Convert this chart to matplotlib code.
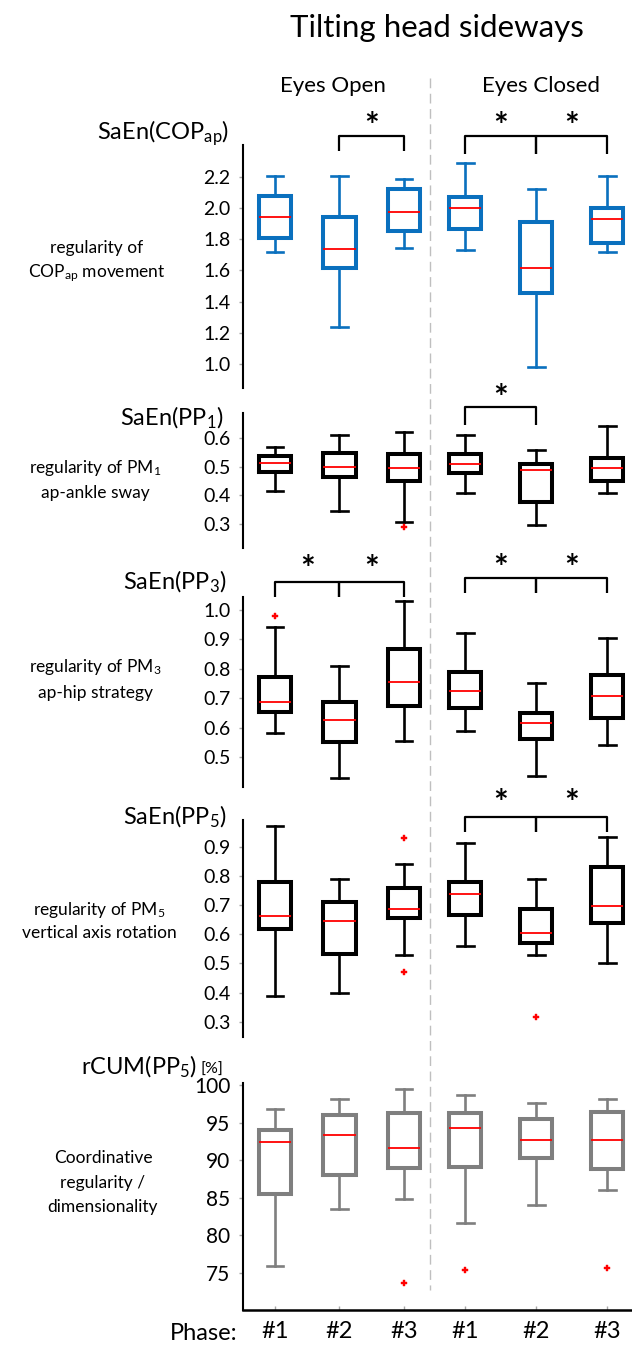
import matplotlib
matplotlib.use("Agg")
import matplotlib.pyplot as plt
from matplotlib import transforms

plt.rcParams['font.family'] = ['Lato', 'DejaVu Sans']
plt.rcParams['mathtext.fontset'] = 'custom'
plt.rcParams['mathtext.rm'] = 'Lato'
plt.rcParams['mathtext.it'] = 'Lato:italic'
plt.rcParams['mathtext.bf'] = 'Lato:bold'

# ---------------- data ----------------
phases = ['#1', '#2', '#3', '#1', '#2', '#3']
conditions = ['Eyes Open', 'Eyes Closed']

cop_med = [1.944, 1.737, 1.972, 1.997, 1.613, 1.927]
cop_q1 = [1.805, 1.613, 1.854, 1.865, 1.453, 1.773]
cop_q3 = [2.078, 1.944, 2.121, 2.072, 1.908, 1.997]
cop_lo = [1.715, 1.238, 1.741, 1.730, 0.982, 1.719]
cop_hi = [2.206, 2.206, 2.185, 2.286, 2.119, 2.206]
cop_out = [[], [], [], [], [], []]
cop_sig = [(1, 2), (3, 4), (4, 5)]

pp1_med = [0.512, 0.500, 0.496, 0.509, 0.488, 0.494]
pp1_q1 = [0.482, 0.462, 0.450, 0.477, 0.376, 0.451]
pp1_q3 = [0.537, 0.547, 0.544, 0.544, 0.508, 0.531]
pp1_lo = [0.416, 0.346, 0.306, 0.407, 0.297, 0.407]
pp1_hi = [0.570, 0.610, 0.620, 0.610, 0.558, 0.642]
pp1_out = [[], [], [0.291], [], [], []]
pp1_sig = [(3, 4)]

pp3_med = [0.688, 0.625, 0.756, 0.724, 0.617, 0.709]
pp3_q1 = [0.653, 0.551, 0.673, 0.667, 0.560, 0.631]
pp3_q3 = [0.773, 0.688, 0.866, 0.790, 0.651, 0.778]
pp3_lo = [0.583, 0.430, 0.553, 0.589, 0.434, 0.542]
pp3_hi = [0.943, 0.810, 1.031, 0.920, 0.750, 0.903]
pp3_out = [[0.980], [], [], [], [], []]
pp3_sig = [(0, 1), (1, 2), (3, 4), (4, 5)]

pp5_med = [0.663, 0.646, 0.685, 0.738, 0.603, 0.698]
pp5_q1 = [0.618, 0.532, 0.654, 0.666, 0.569, 0.639]
pp5_q3 = [0.778, 0.709, 0.757, 0.780, 0.686, 0.829]
pp5_lo = [0.389, 0.397, 0.529, 0.559, 0.529, 0.500]
pp5_hi = [0.972, 0.789, 0.841, 0.911, 0.789, 0.932]
pp5_out = [[], [], [0.929, 0.469], [], [0.317], []]
pp5_sig = [(3, 4), (4, 5)]

rcum_med = [92.42, 93.40, 91.67, 94.29, 92.73, 92.64]
rcum_q1 = [85.44, 87.98, 88.96, 89.09, 90.33, 88.78]
rcum_q3 = [93.98, 95.98, 96.33, 96.29, 95.44, 96.42]
rcum_lo = [75.89, 83.53, 84.87, 81.67, 83.98, 85.98]
rcum_hi = [96.87, 98.20, 99.53, 98.64, 97.62, 98.20]
rcum_out = [[], [], [73.67], [75.31], [], [75.67]]
rcum_sig = []

# ---------------- layout ----------------
W, H = 632, 1345
fig = plt.figure(figsize=(W / 100, H / 100), dpi=100)


def fx(px):
    return px / W


def fy(py):
    return 1 - py / H


positions = [1, 2, 3, 3.95, 5.05, 6.15]
XLIM = (0.504, 6.535)
AX_LEFT, AX_RIGHT = 243, 632

panels = [
    dict(stats=(cop_med, cop_q1, cop_q3, cop_lo, cop_hi, cop_out), sig=cop_sig,
         color='#0A70BE', top=145, bot=388, ylim=(0.846, 2.403),
         ticks=[1.0, 1.2, 1.4, 1.6, 1.8, 2.0, 2.2], fmt='{:.1f}',
         title='SaEn(COP$_{\\mathrm{ap}}$)', title_xy=(229, 139),
         desc=[('regularity of', 248), ('COP$_{\\mathrm{ap}}$ movement', 273)], desc_x=97,
         brk=[(136, 151, 120), (136, 154, 120), (136, 154, 120)]),
    dict(stats=(pp1_med, pp1_q1, pp1_q3, pp1_lo, pp1_hi, pp1_out), sig=pp1_sig,
         color='black', top=413, bot=548, ylim=(0.216, 0.687),
         ticks=[0.3, 0.4, 0.5, 0.6], fmt='{:.1f}',
         title='SaEn(PP$_1$)', title_xy=(224, 425),
         desc=[('regularity of PM$_1$', 468), ('ap-ankle sway', 493)], desc_x=95,
         brk=[(407, 425, 392)]),
    dict(stats=(pp3_med, pp3_q1, pp3_q3, pp3_lo, pp3_hi, pp3_out), sig=pp3_sig,
         color='black', top=597, bot=787, ylim=(0.398, 1.044),
         ticks=[0.5, 0.6, 0.7, 0.8, 0.9, 1.0], fmt='{:.1f}',
         title='SaEn(PP$_3$)', title_xy=(227, 589),
         desc=[('regularity of PM$_3$', 667), ('ap-hip strategy', 693)], desc_x=95,
         brk=[(582, 597, 563), (582, 597, 563), (578, 593, 562), (578, 593, 562)]),
    dict(stats=(pp5_med, pp5_q1, pp5_q3, pp5_lo, pp5_hi, pp5_out), sig=pp5_sig,
         color='black', top=820, bot=1037, ylim=(0.248, 0.991),
         ticks=[0.3, 0.4, 0.5, 0.6, 0.7, 0.8, 0.9], fmt='{:.1f}',
         title='SaEn(PP$_5$)', title_xy=(227, 824),
         desc=[('regularity of PM$_5$', 910), ('vertical axis rotation', 933)], desc_x=99,
         brk=[(817, 832, 797), (817, 832, 797)]),
    dict(stats=(rcum_med, rcum_q1, rcum_q3, rcum_lo, rcum_hi, rcum_out), sig=rcum_sig,
         color='#7F7F7F', top=1083, bot=1310, ylim=(70.0, 100.3),
         ticks=[75, 80, 85, 90, 95, 100], fmt='{:.0f}',
         title='rCUM(PP$_5$)', title_xy=(197, 1074),
         desc=[('Coordinative', 1158), ('regularity /', 1183), ('dimensionality', 1207)], desc_x=103,
         brk=[]),
]

axes = []
for k, p in enumerate(panels):
    ax = fig.add_axes([fx(AX_LEFT), fy(p['bot']), fx(AX_RIGHT - AX_LEFT), (p['bot'] - p['top']) / H])
    axes.append(ax)
    med, q1, q3, lo, hi, out = p['stats']
    stats = [dict(med=med[i], q1=q1[i], q3=q3[i], whislo=lo[i], whishi=hi[i], fliers=out[i])
             for i in range(len(med))]
    c = p['color']
    ax.bxp(stats, positions=positions, widths=0.5, capwidths=0.26, showfliers=True,
           boxprops=dict(color=c, linewidth=2.9, solid_joinstyle='miter'),
           whiskerprops=dict(color=c, linewidth=1.9),
           capprops=dict(color=c, linewidth=1.9),
           medianprops=dict(color='#FF0000', linewidth=1.3),
           flierprops=dict(marker='P', markersize=4.5, markerfacecolor='#FF0000',
                           markeredgecolor='#FF0000', markeredgewidth=0.3, linestyle='none'))
    ax.set_xlim(*XLIM)
    ax.set_ylim(*p['ylim'])
    ax.set_yticks(p['ticks'])
    ax.set_yticklabels([p['fmt'].format(t) for t in p['ticks']])
    ax.tick_params(axis='y', length=3, width=1, color='#A6A6A6', labelsize=14, pad=6)
    for s in ['top', 'right']:
        ax.spines[s].set_visible(False)
    ax.spines['left'].set_linewidth(1.5)
    ax.patch.set_alpha(0)
    if k < len(panels) - 1:
        ax.spines['bottom'].set_visible(False)
        ax.set_xticks([])
    else:
        ax.spines['bottom'].set_linewidth(1.8)
        ax.set_xticks(positions)
        ax.set_xticklabels(phases)
        ax.tick_params(axis='x', direction='in', length=3, width=1, color='#A6A6A6',
                       labelsize=17, pad=8)
        ax.tick_params(axis='y', labelsize=15)

    # panel title
    fig.text(fx(p['title_xy'][0]), fy(p['title_xy'][1]), p['title'], ha='right',
             va='baseline', fontsize=17)
    # description
    for txt, yy in p['desc']:
        fig.text(fx(p['desc_x']), fy(yy), txt, ha='center', va='center', fontsize=12.5)

    # significance brackets
    trans = transforms.blended_transform_factory(ax.transData, fig.transFigure)
    for (i, j), (ytop, yleg, ystar) in zip(p['sig'], p['brk']):
        xs = [positions[i], positions[i], positions[j], positions[j]]
        ys = [fy(yleg), fy(ytop), fy(ytop), fy(yleg)]
        ax.plot(xs, ys, transform=trans, color='black', lw=1.6, clip_on=False,
                solid_joinstyle='round', solid_capstyle='butt')
        ax.text((positions[i] + positions[j]) / 2, fy(ystar + 17), '*', transform=trans,
                ha='center', va='baseline', fontsize=25, fontweight='bold')
    ax.set_xlim(*XLIM)
    ax.set_ylim(*p['ylim'])

# "[%]" unit for last panel
fig.text(fx(201), fy(1074), '[%]', ha='left', va='baseline', fontsize=11.5)

# bottom "Phase:" label
fig.text(fx(237), fy(1333), 'Phase:', ha='right', va='center', fontsize=17)

# title and conditions
fig.text(fx(437), fy(37), 'Tilting head sideways', ha='center', va='baseline', fontsize=22.5)
fig.text(fx(333), fy(92), conditions[0], ha='center', va='baseline', fontsize=16)
fig.text(fx(541), fy(92), conditions[1], ha='center', va='baseline', fontsize=16)

# divider between conditions
axb = axes[-1]
tdiv = transforms.blended_transform_factory(axb.transData, fig.transFigure)
axb.plot([3.40, 3.40], [fy(78), fy(1290)], transform=tdiv, color='#BFBFBF', lw=1,
         linestyle=(0, (7, 4)), clip_on=False, zorder=0)
axb.set_xlim(*XLIM)
axb.set_ylim(*panels[-1]['ylim'])

fig.savefig('out.png', dpi=100)
